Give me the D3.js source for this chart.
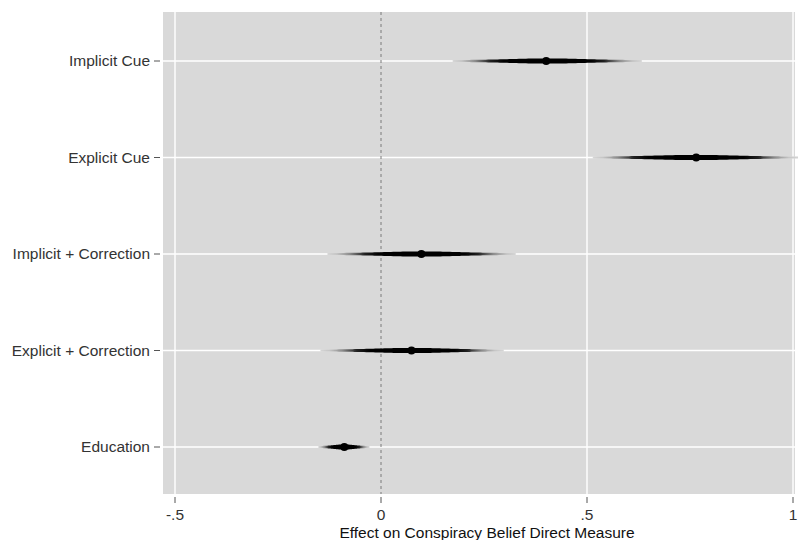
<!DOCTYPE html>
<html>
<head>
<meta charset="utf-8">
<script src="https://cdn.jsdelivr.net/npm/d3@7"></script>
<style>
  body { margin: 0; background: #fff; }
  text { font-family: "Liberation Sans", Arial, sans-serif; }
</style>
</head>
<body>
<div id="chart"></div>
<script>
// datos
const categories = ["Implicit Cue", "Explicit Cue", "Implicit + Correction", "Explicit + Correction", "Education"];
const estimates = [0.401, 0.765, 0.098, 0.074, -0.089];
const lower = [0.174, 0.514, -0.130, -0.147, -0.152];
const upper = [0.633, 1.015, 0.327, 0.298, -0.028];
const xTicks = [-0.5, 0, 0.5, 1];
const xTickLabels = ["-.5", "0", ".5", "1"];

const W = 798, H = 540;
const plot = { left: 163, right: 795, top: 12, bottom: 494 };

const svg = d3.select("#chart").append("svg")
  .attr("width", W).attr("height", H);

const x = d3.scaleLinear().domain([-0.5, 1]).range([175, 793]);
const y = d3.scalePoint().domain(categories).range([61, 447]);

// fondo gris
svg.append("rect")
  .attr("x", plot.left).attr("y", plot.top)
  .attr("width", plot.right - plot.left).attr("height", plot.bottom - plot.top)
  .attr("fill", "#d9d9d9");

// grilla vertical
svg.selectAll(".vgrid")
  .data(xTicks.filter(d => d !== 0))
  .enter().append("line")
  .attr("x1", d => x(d)).attr("x2", d => x(d))
  .attr("y1", plot.top).attr("y2", plot.bottom)
  .attr("stroke", "#fff").attr("stroke-width", 1.4);

// grilla horizontal
svg.selectAll(".hgrid")
  .data(categories)
  .enter().append("line")
  .attr("x1", plot.left).attr("x2", plot.right)
  .attr("y1", d => y(d)).attr("y2", d => y(d))
  .attr("stroke", "#fff").attr("stroke-width", 1.4);

// linea de cero punteada
svg.append("line")
  .attr("x1", x(0)).attr("x2", x(0))
  .attr("y1", plot.top).attr("y2", plot.bottom)
  .attr("stroke", "#7a7a7a").attr("stroke-width", 1)
  .attr("stroke-dasharray", "3,3");

const defs = svg.append("defs");
// de gris del fondo a negro en el centro
const shade = d3.interpolateRgb("#d6d6d6", "#000");
const fadeStops = [[0, 0], [0.05, 0.08], [0.12, 0.35], [0.2, 0.85], [0.27, 1], [0.73, 1], [0.8, 0.85], [0.88, 0.35], [0.95, 0.08], [1, 0]];

categories.forEach((c, i) => {
  const grad = defs.append("linearGradient")
    .attr("id", "g" + i)
    .attr("gradientUnits", "userSpaceOnUse")
    .attr("x1", x(lower[i])).attr("x2", x(upper[i]))
    .attr("y1", 0).attr("y2", 0);
  grad.selectAll("stop").data(fadeStops).enter().append("stop")
    .attr("offset", d => d[0])
    .attr("stop-color", d => shade(d[1]));

  // forma de huso: mas grueso cerca del punto
  const n = 80, cy = y(c), top = [], bot = [];
  for (let k = 0; k <= n; k++) {
    const t = k / n;
    const v = lower[i] + t * (upper[i] - lower[i]);
    const z = (t - 0.5) * 5;
    const hw = 0.9 + 1.7 * Math.exp(-z * z / 2);
    top.push([x(v), cy - hw]);
    bot.push([x(v), cy + hw]);
  }
  const pts = top.concat(bot.reverse());
  svg.append("path")
    .attr("d", "M" + pts.map(p => p.join(",")).join("L") + "Z")
    .attr("fill", `url(#g${i})`);

  svg.append("circle")
    .attr("cx", x(estimates[i])).attr("cy", cy)
    .attr("r", 4).attr("fill", "#000");
});

// eje y
categories.forEach(c => {
  svg.append("line")
    .attr("x1", 154).attr("x2", 160)
    .attr("y1", y(c)).attr("y2", y(c))
    .attr("stroke", "#555").attr("stroke-width", 1);
  svg.append("text")
    .attr("x", 150).attr("y", y(c)).attr("dy", "0.35em")
    .attr("text-anchor", "end")
    .attr("font-size", 15.5).attr("fill", "#333")
    .text(c);
});

// eje x
xTicks.forEach((t, i) => {
  svg.append("line")
    .attr("x1", x(t)).attr("x2", x(t))
    .attr("y1", 497).attr("y2", 503)
    .attr("stroke", "#555").attr("stroke-width", 1);
  svg.append("text")
    .attr("x", x(t)).attr("y", 520)
    .attr("text-anchor", "middle")
    .attr("font-size", 15.5).attr("fill", "#333")
    .text(xTickLabels[i]);
});

svg.append("text")
  .attr("x", 487).attr("y", 538)
  .attr("text-anchor", "middle")
  .attr("font-size", 15.5).attr("fill", "#111")
  .text("Effect on Conspiracy Belief Direct Measure");
</script>
</body>
</html>
